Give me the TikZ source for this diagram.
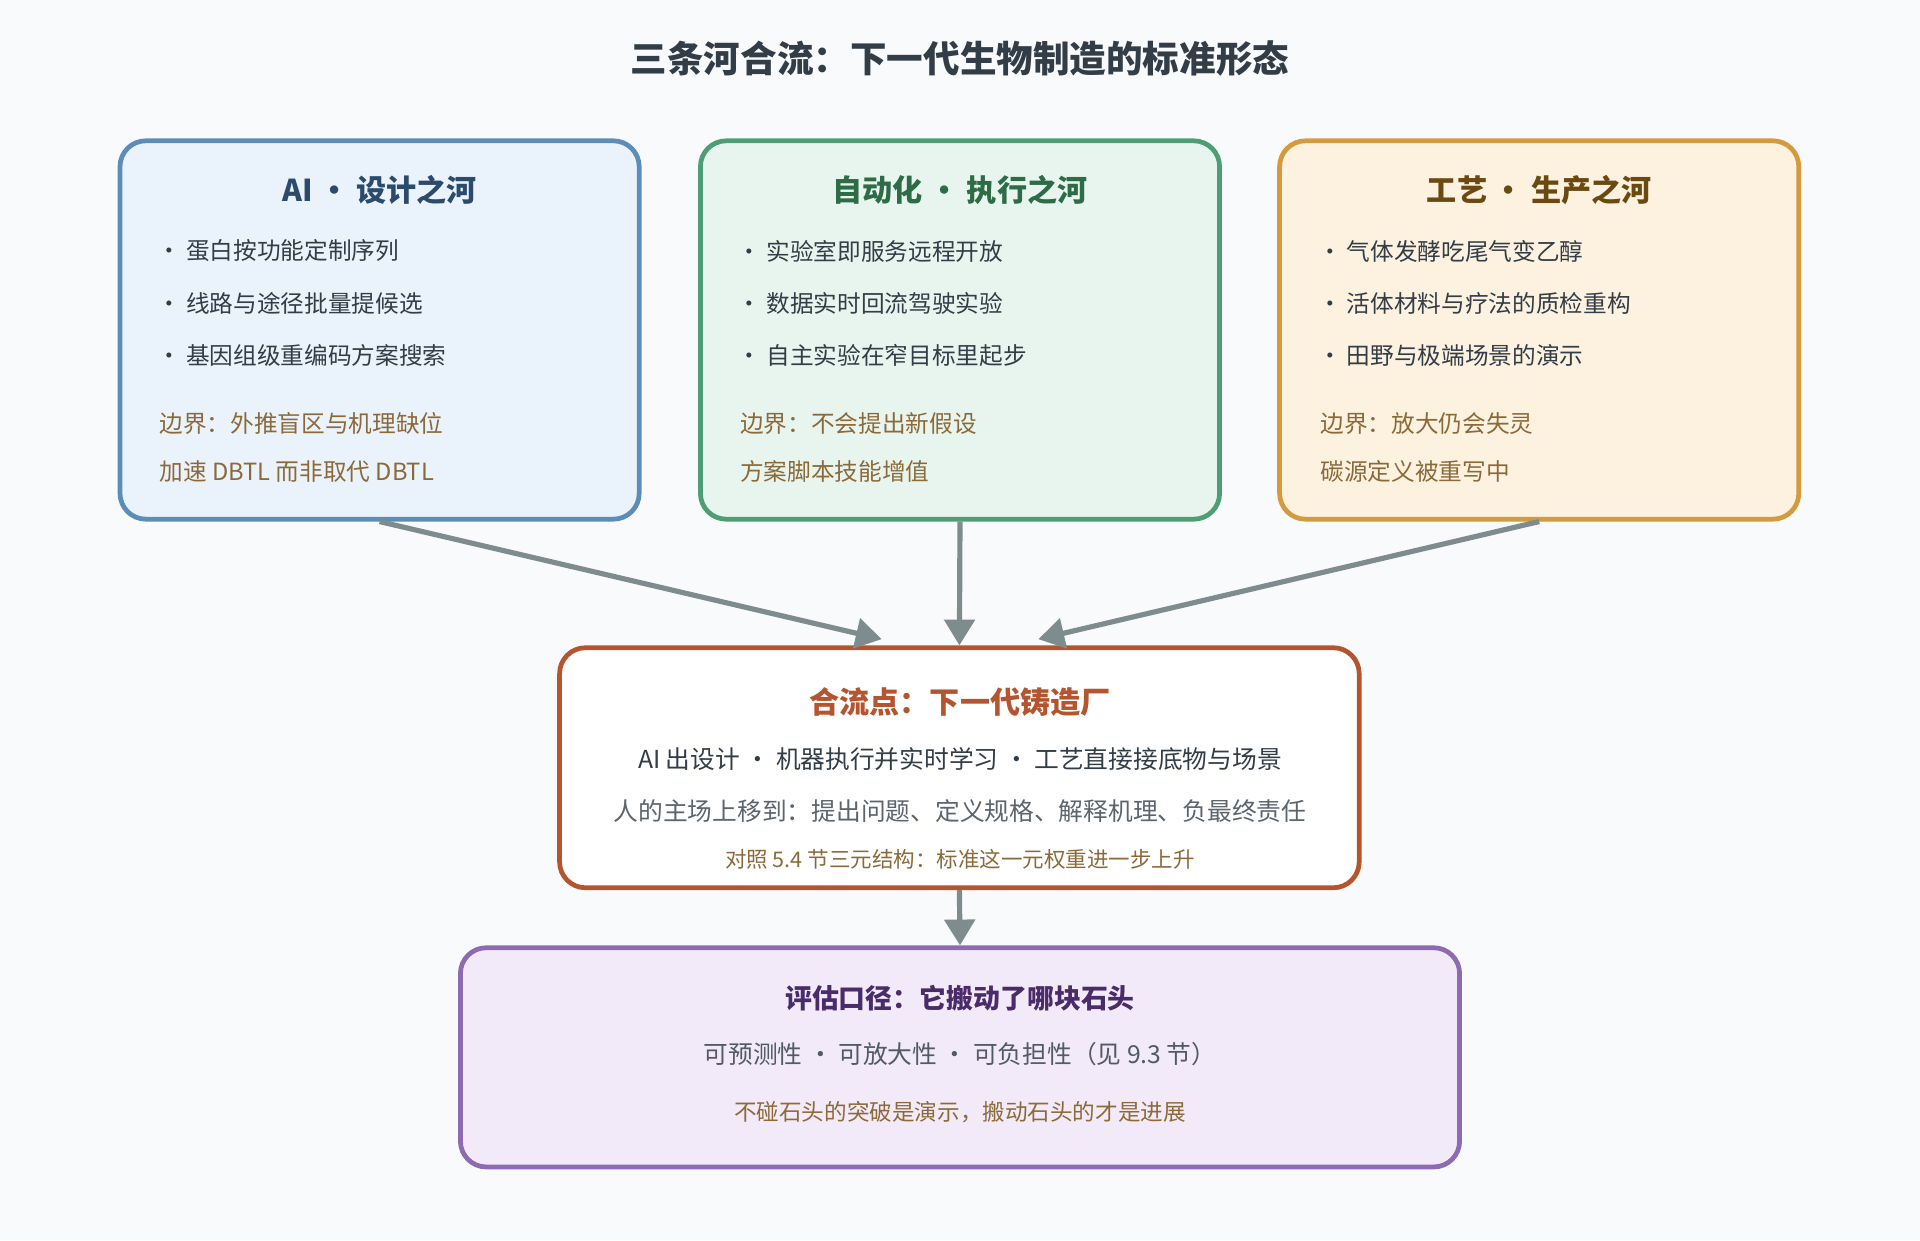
\documentclass[tikz,border=0pt]{standalone}
\usepackage{fontspec}
\setmainfont{Noto Sans CJK SC}
\usetikzlibrary{positioning,arrows.meta,calc}
\definecolor{bgc}{HTML}{F8FAFC}
\definecolor{arrc}{HTML}{7F8C8D}
\definecolor{txtc}{HTML}{333D47}
\definecolor{bndc}{HTML}{8B6A3A}
\definecolor{aifill}{HTML}{EAF2FB}\definecolor{aidraw}{HTML}{5B8DB8}\definecolor{aihead}{HTML}{2C4A6B}
\definecolor{aufill}{HTML}{E8F5EE}\definecolor{audraw}{HTML}{4E9E74}\definecolor{auhead}{HTML}{2E6B47}
\definecolor{crfill}{HTML}{FDF2E0}\definecolor{crdraw}{HTML}{D49A3E}\definecolor{crhead}{HTML}{6B4A12}
\definecolor{mgdraw}{HTML}{B5552F}
\definecolor{evfill}{HTML}{F2EAF8}\definecolor{evdraw}{HTML}{8E6BB0}\definecolor{evhead}{HTML}{4A2C6B}
\tikzset{
  box/.style={draw, line width=2.2pt, rounded corners=12pt, inner sep=0pt},
  head/.style={font=\bfseries\fontsize{14pt}{16pt}\selectfont},
  item/.style={anchor=west, inner sep=0pt, text=txtc, font=\fontsize{11pt}{13pt}\selectfont},
  bnd/.style={item, text=bndc},
  flow/.style={draw=arrc, line width=2.4pt, -{Triangle[length=12pt,width=14pt]}}
}
\begin{document}
\begin{tikzpicture}[x=0.02cm, y=-0.02cm]
  \fill[bgc] (0,0) rectangle (1568,1013);
  \useasboundingbox (0,0) rectangle (1568,1013);

  \node (title) at (784,48) {\bfseries\fontsize{17pt}{20pt}\selectfont\color{txtc}三条河合流：下一代生物制造的标准形态};

  % three rivers
  \node[box, fill=aifill, draw=aidraw, minimum width=424*0.02cm, minimum height=309*0.02cm] (ai) at (310,269.5) {};
  \node[box, fill=aufill, draw=audraw, minimum width=424*0.02cm, minimum height=309*0.02cm] (au) at (784,269.5) {};
  \node[box, fill=crfill, draw=crdraw, minimum width=424*0.02cm, minimum height=309*0.02cm] (cr) at (1257,269.5) {};

  \node[head, text=aihead] (aiH) at (310,155) {AI · 设计之河};
  \node[item] (ai1) at (128,205) {· 蛋白按功能定制序列};
  \node[item] (ai2) at (128,248) {· 线路与途径批量提候选};
  \node[item] (ai3) at (128,290) {· 基因组级重编码方案搜索};
  \node[bnd] (ai4) at (130,346) {边界：外推盲区与机理缺位};
  \node[bnd] (ai5) at (130,385) {加速 DBTL 而非取代 DBTL};

  \node[head, text=auhead] (auH) at (784,155) {自动化 · 执行之河};
  \node[item] (au1) at (602,205) {· 实验室即服务远程开放};
  \node[item] (au2) at (602,248) {· 数据实时回流驾驶实验};
  \node[item] (au3) at (602,290) {· 自主实验在窄目标里起步};
  \node[bnd] (au4) at (604,346) {边界：不会提出新假设};
  \node[bnd] (au5) at (604,385) {方案脚本技能增值};

  \node[head, text=crhead] (crH) at (1257,155) {工艺 · 生产之河};
  \node[item] (cr1) at (1076,205) {· 气体发酵吃尾气变乙醇};
  \node[item] (cr2) at (1076,248) {· 活体材料与疗法的质检重构};
  \node[item] (cr3) at (1076,290) {· 田野与极端场景的演示};
  \node[bnd] (cr4) at (1078,346) {边界：放大仍会失灵};
  \node[bnd] (cr5) at (1078,385) {碳源定义被重写中};

  % confluence
  \node[box, fill=white, draw=mgdraw, minimum width=653*0.02cm, minimum height=196*0.02cm] (mg) at (783.5,627) {};
  \node[head, text=mgdraw] (mgH) at (784,573) {合流点：下一代铸造厂};
  \node[text=txtc, font=\fontsize{11.5pt}{13pt}\selectfont] (mg1) at (784,620) {AI 出设计 · 机器执行并实时学习 · 工艺直接接底物与场景};
  \node[text=txtc!80, font=\fontsize{11.5pt}{13pt}\selectfont] (mg2) at (784,662) {人的主场上移到：提出问题、定义规格、解释机理、负最终责任};
  \node[text=bndc, font=\fontsize{10pt}{12pt}\selectfont] (mg3) at (784,702) {对照 5.4 节三元结构：标准这一元权重进一步上升};

  % evaluation
  \node[box, fill=evfill, draw=evdraw, minimum width=816*0.02cm, minimum height=179*0.02cm] (ev) at (784,863.5) {};
  \node[text=evhead, font=\bfseries\fontsize{12.5pt}{14pt}\selectfont] (evH) at (784,815) {评估口径：它搬动了哪块石头};
  \node[text=txtc!85, font=\fontsize{11.5pt}{13pt}\selectfont] (ev1) at (784,861) {可预测性 · 可放大性 · 可负担性（见 9.3 节）};
  \node[text=bndc, font=\fontsize{10.5pt}{12pt}\selectfont] (ev2) at (784,908) {不碰石头的突破是演示，搬动石头的才是进展};

  % arrows
  \coordinate (inL) at (720,522);
  \coordinate (inR) at (848,522);
  \draw[flow] (ai.south) -- (inL);
  \draw[flow] (au.south) -- (mg.north);
  \draw[flow] (cr.south) -- (inR);
  \draw[flow] (mg.south) -- (ev.north);
\end{tikzpicture}
\end{document}
